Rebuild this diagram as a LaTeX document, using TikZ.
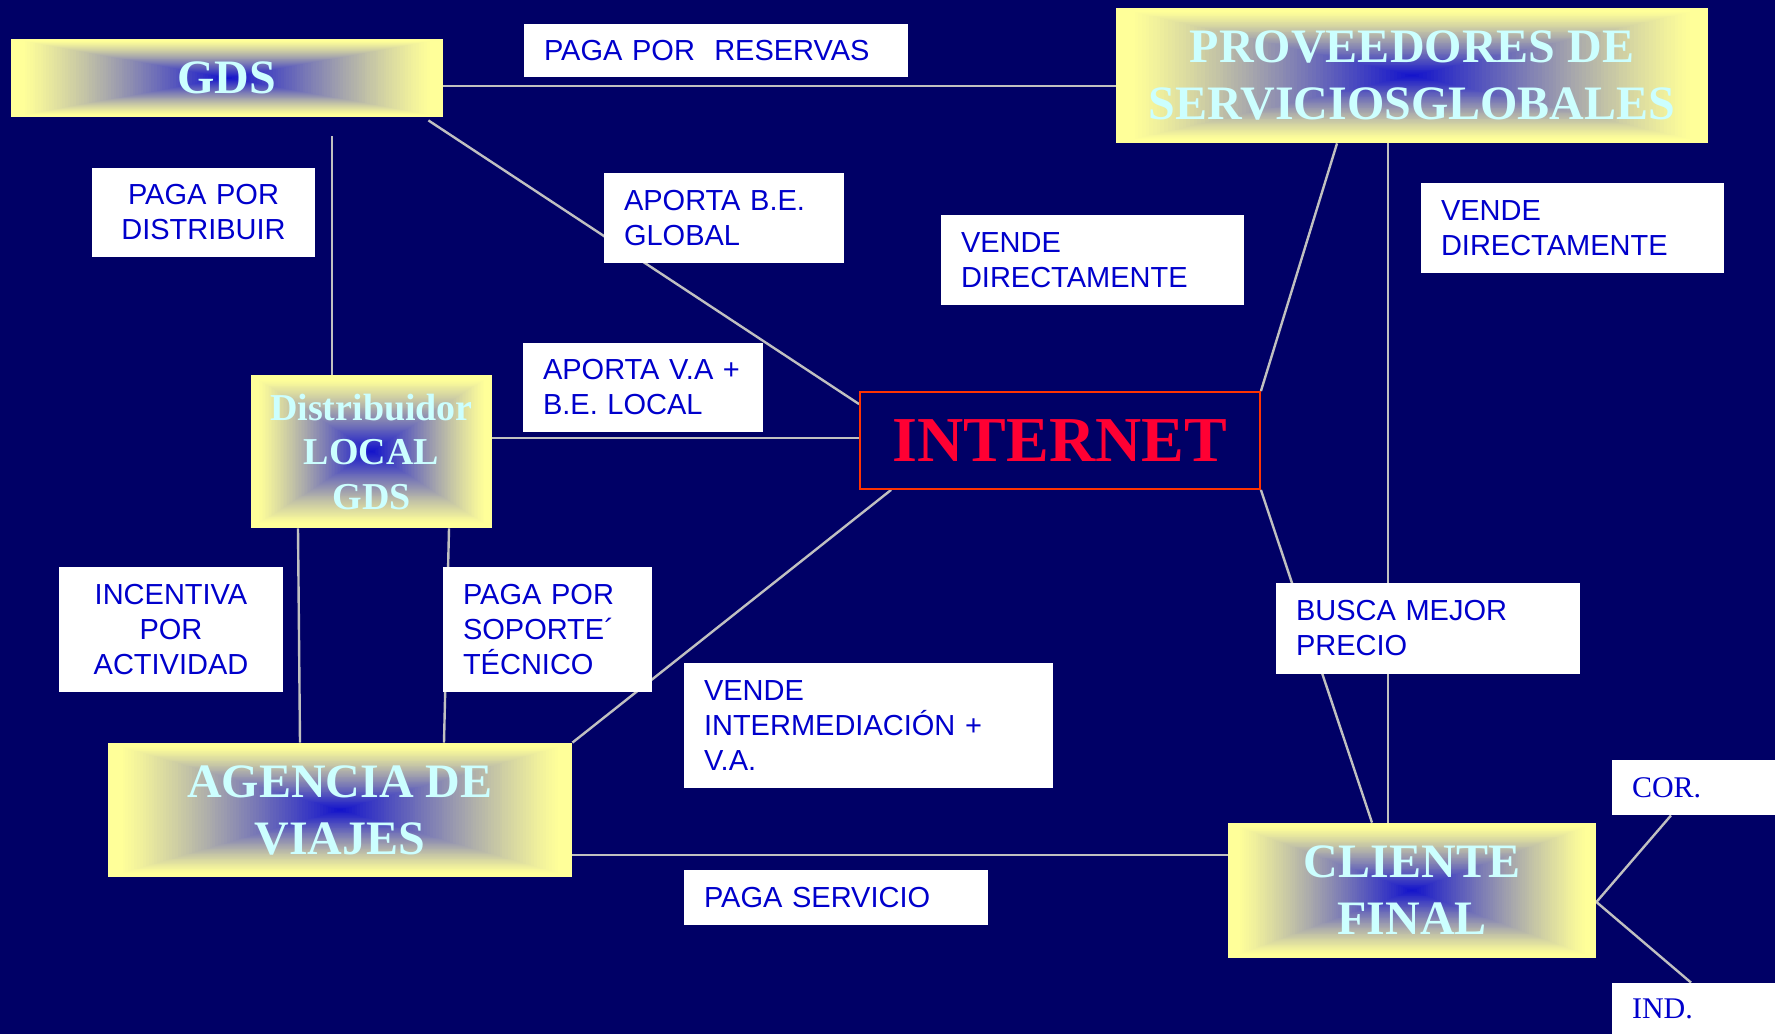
\documentclass[tikz,border=0pt]{standalone}
\usepackage{fontspec}
\setmainfont{Liberation Serif}
\setsansfont{Liberation Sans}
\usetikzlibrary{calc}
\definecolor{navy}{RGB}{0,0,102}
\definecolor{yel}{RGB}{255,255,153}
\definecolor{bluc}{RGB}{16,16,204}
\definecolor{cyantxt}{RGB}{204,255,255}
\definecolor{lbl}{RGB}{0,0,204}
\definecolor{lgray}{RGB}{192,192,192}
\definecolor{inetred}{RGB}{255,51,0}
\definecolor{inettxt}{RGB}{255,0,51}
\pgfdeclarelayer{back}
\pgfdeclarelayer{lines}
\pgfsetlayers{back,lines,main}
\tikzset{
  gradbox/.style={rectangle, inner sep=0pt, text=cyantxt, align=center,
    font=\bfseries\fontsize{24}{28.5}\selectfont,
    path picture={
      \foreach \gi in {0,...,79}{
        \pgfmathsetmacro\gs{1-\gi/80}
        \pgfmathsetmacro\gu{max(0.0001,(\gi/80-0.05)/0.95)}
        \pgfmathsetmacro\gp{100*pow(\gu,1.15)}
        \fill[bluc!\gp!yel] ($(path picture bounding box.center)!\gs!(path picture bounding box.south west)$) rectangle ($(path picture bounding box.center)!\gs!(path picture bounding box.north east)$);
      }
    }},
  lblbox/.style={rectangle, fill=white, inner xsep=10pt, inner ysep=0pt, text=lbl,
    font=\sffamily\fontsize{14.5}{17.5}\selectfont, align=left},
  serbox/.style={lblbox, font=\rmfamily\fontsize{15}{18}\selectfont},
  conn/.style={draw=lgray, line width=1.2pt},
}
\begin{document}
\begin{tikzpicture}[x=0.5pt, y=-0.5pt]
\useasboundingbox (0,0) rectangle (1775,1034);
\begin{pgfonlayer}{back}
  \fill[navy] (0,0) rectangle (1775,1034);
\end{pgfonlayer}

% gradient boxes
\node[gradbox, minimum width=216pt, minimum height=39pt] (gds) at (227,78) {GDS};
\node[gradbox, minimum width=296pt, minimum height=67.5pt] (prov) at (1412,75.5) {PROVEEDORES DE\\SERVICIOSGLOBALES};
\node[gradbox, minimum width=120.5pt, minimum height=76.5pt, font=\bfseries\fontsize{19}{22.25}\selectfont] (dist) at (371.5,451.5) {Distribuidor\\LOCAL\\GDS};
\node[gradbox, minimum width=232pt, minimum height=67pt] (agen) at (340,810) {AGENCIA DE\\VIAJES};
\node[gradbox, minimum width=184pt, minimum height=67.5pt] (cli) at (1412,890.5) {CLIENTE\\FINAL};
\node[draw=inetred, line width=0.9pt, fill=navy, minimum width=200pt, minimum height=48.5pt, inner sep=0pt, text=inettxt, font=\bfseries\fontsize{32}{36}\selectfont] (inet) at (1060,440.5) {INTERNET};

% label boxes
\node[lblbox, text width=172pt, minimum height=26.5pt] (l1) at (716,50.5) {PAGA~POR\ \ RESERVAS};
\node[lblbox, text width=91.5pt, minimum height=44.5pt, align=center] (l2) at (203.5,212.5) {PAGA~POR\\DISTRIBUIR};
\node[lblbox, text width=100pt, minimum height=45pt] (l3) at (724,218) {APORTA~B.E.\\GLOBAL};
\node[lblbox, text width=131.5pt, minimum height=45pt] (l4) at (1092.5,260) {VENDE\\DIRECTAMENTE};
\node[lblbox, text width=131.5pt, minimum height=45pt] (l5) at (1572.5,228) {VENDE\\DIRECTAMENTE};
\node[lblbox, text width=100pt, minimum height=44.5pt] (l6) at (643,387.5) {APORTA~V.A~+\\B.E.~LOCAL};
\node[lblbox, text width=92pt, minimum height=62.5pt, align=center] (l7) at (171,629.5) {INCENTIVA\\POR\\ACTIVIDAD};
\node[lblbox, text width=84.5pt, minimum height=62.5pt] (l8) at (547.5,629.5) {PAGA~POR\\SOPORTE´\\TÉCNICO};
\node[lblbox, text width=164.5pt, minimum height=62.5pt] (l9) at (868.5,725.5) {VENDE\\INTERMEDIACIÓN~+\\V.A.};
\node[lblbox, text width=132pt, minimum height=45.5pt] (l10) at (1428,628.5) {BUSCA~MEJOR\\PRECIO};
\node[lblbox, text width=132pt, minimum height=27.5pt] (l11) at (836,897.5) {PAGA~SERVICIO};
\node[serbox, text width=61.5pt, minimum height=27.5pt] (cor) at (1693.5,787.5) {COR.};
\node[serbox, text width=61.5pt, minimum height=25.5pt] (ind) at (1693.5,1008.5) {IND.};

\coordinate (gdsdrop) at (332,136);

% connectors
\begin{pgfonlayer}{lines}
  \draw[conn] (gds.east |- 0,86) -- (prov.west |- 0,86);
  \draw[conn] ($(gds.south east)+(-15,3)$) -- ($(inet.north west)+(0,13)$);
  \draw[conn] (gdsdrop) -- (dist.north -| gdsdrop);
  \draw[conn] (dist.east |- 0,438) -- (inet.west |- 0,438);
  \draw[conn] (dist.south -| 298,0) -- (agen.north -| 300,0);
  \draw[conn] (dist.south -| 449,0) -- (agen.north -| 444,0);
  \draw[conn] ($(inet.south west)+(32,0)$) -- (agen.north east);
  \draw[conn] (agen.east |- 0,855) -- (cli.west |- 0,855);
  \draw[conn] (prov.south -| 1337,0) -- (inet.north east);
  \draw[conn] (prov.south -| 1388,0) -- (cli.north -| 1388,0);
  \draw[conn] (inet.south east) -- (cli.north -| 1372,0);
  \draw[conn] (cli.east |- 0,902) -- (cor.south -| 1671,0);
  \draw[conn] (cli.east |- 0,902) -- (ind.north -| 1691,0);
\end{pgfonlayer}
\end{tikzpicture}
\end{document}
